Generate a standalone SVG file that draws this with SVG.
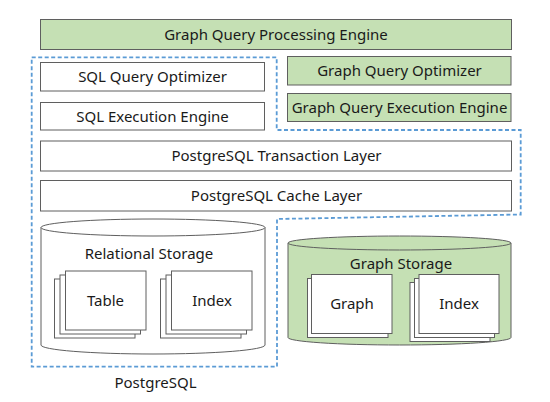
<svg xmlns="http://www.w3.org/2000/svg" width="550" height="402" viewBox="0 0 550 402">
  <style>
    .box { stroke: #5f5f5f; stroke-width: 1; }
    .green { fill: #c5e0b4; }
    .white { fill: #ffffff; }
    .page { fill: #ffffff; stroke: #5f5f5f; stroke-width: 1; }
    .cyl { stroke: #5f5f5f; stroke-width: 1; }
    .lbl { font-family: "Noto Sans", "Open Sans", sans-serif; font-size: 15px; fill: #1a1a1a; text-anchor: middle; }
    .dash { fill: none; stroke: #5b9bd5; stroke-width: 1.8; stroke-dasharray: 4 2.5; }
  </style>
  <rect x="0" y="0" width="550" height="402" fill="#ffffff"/>

  <g id="gqpe">
    <rect class="box green" x="40.5" y="19.5" width="471" height="30"/>
    <text class="lbl" x="276" y="39.5">Graph Query Processing Engine</text>
  </g>
  <g id="sql-optimizer">
    <rect class="box white" x="40.5" y="62.5" width="224" height="28.5"/>
    <text class="lbl" x="152.5" y="81.5">SQL Query Optimizer</text>
  </g>
  <g id="sql-exec">
    <rect class="box white" x="40.5" y="102.5" width="224" height="27.5"/>
    <text class="lbl" x="152.5" y="121.5">SQL Execution Engine</text>
  </g>
  <g id="graph-optimizer">
    <rect class="box green" x="287.5" y="56.5" width="223.5" height="28.5"/>
    <text class="lbl" x="399.5" y="76">Graph Query Optimizer</text>
  </g>
  <g id="graph-exec">
    <rect class="box green" x="287.5" y="93.5" width="223.5" height="28"/>
    <text class="lbl" x="399.5" y="112.5">Graph Query Execution Engine</text>
  </g>
  <g id="tx-layer">
    <rect class="box white" x="40.5" y="141" width="471" height="30"/>
    <text class="lbl" x="276.5" y="161">PostgreSQL Transaction Layer</text>
  </g>
  <g id="cache-layer">
    <rect class="box white" x="40.5" y="180.5" width="471" height="30.5"/>
    <text class="lbl" x="276.5" y="201">PostgreSQL Cache Layer</text>
  </g>

  <g id="relational-storage">
    <path class="cyl white" d="M41,227.5 V345 A112,9 0 0 0 265,345 V227.5 Z"/>
    <ellipse class="cyl white" cx="153" cy="227.5" rx="112" ry="8.5"/>
    <text class="lbl" x="149" y="259">Relational Storage</text>
  </g>
  <g id="rel-table">
    <rect class="page" x="54.5" y="279" width="80.5" height="59"/>
    <rect class="page" x="60" y="275" width="80.5" height="59"/>
    <rect class="page" x="65.5" y="271" width="80.5" height="59"/>
    <text class="lbl" x="105.5" y="306">Table</text>
  </g>
  <g id="rel-index">
    <rect class="page" x="160.5" y="279" width="80.5" height="59"/>
    <rect class="page" x="166" y="275" width="80.5" height="59"/>
    <rect class="page" x="171.5" y="271" width="80.5" height="59"/>
    <text class="lbl" x="212" y="306">Index</text>
  </g>

  <g id="graph-storage">
    <path class="cyl green" d="M288,243 V337.5 A111.5,7.5 0 0 0 511,337.5 V243 Z"/>
    <ellipse class="cyl green" cx="399.5" cy="243" rx="111.5" ry="7"/>
    <text class="lbl" x="401" y="268.5">Graph Storage</text>
  </g>
  <g id="graph-graph">
    <rect class="page" x="307.5" y="278.5" width="80.5" height="59"/>
    <rect class="page" x="311.5" y="274.5" width="80.5" height="59"/>
    <text class="lbl" x="352" y="309">Graph</text>
  </g>
  <g id="graph-index">
    <rect class="page" x="410" y="282.5" width="80" height="59"/>
    <rect class="page" x="414.5" y="278.5" width="80" height="59"/>
    <rect class="page" x="419" y="274.5" width="80" height="59"/>
    <text class="lbl" x="459" y="309">Index</text>
  </g>

  <g id="connectors">
    <path id="postgresql-boundary" class="dash" d="M31.7,57.3 H276.7 V130 H520.7 V214.5 L277,219 V366.7 H31.7 Z"/>
  </g>
  <g id="postgresql-label">
    <text class="lbl" x="155.5" y="388">PostgreSQL</text>
  </g>
</svg>
